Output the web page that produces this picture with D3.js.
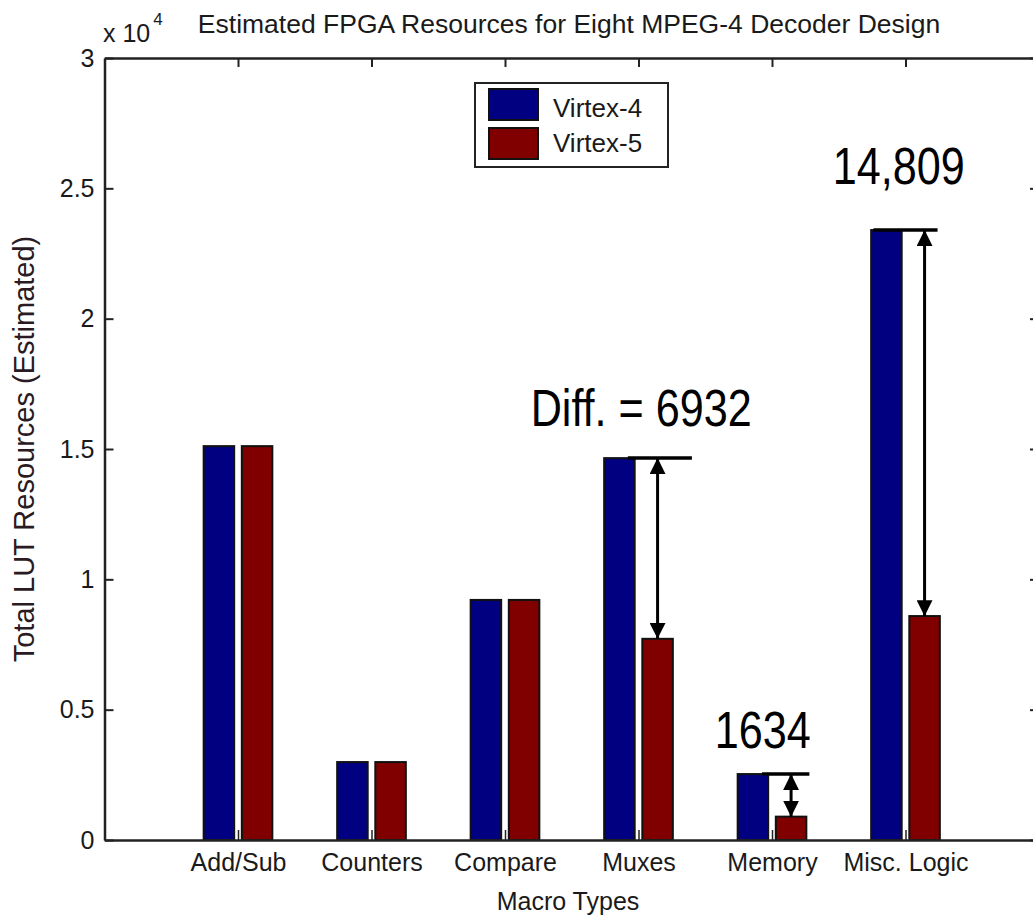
<!DOCTYPE html>
<html>
<head>
<meta charset="utf-8">
<script src="https://d3js.org/d3.v7.min.js"></script>
<style>
  body { margin: 0; background: #fff; }
  svg { font-family: "Liberation Sans", Arial, Helvetica, sans-serif; }
  .axis path, .axis line { stroke: #222; }
  .axis text { fill: #1a1a1a; font-size: 25px; }
</style>
</head>
<body>
<div id="viz"></div>
<script>

// data
const categories = ["Add/Sub", "Counters", "Compare", "Muxes", "Memory", "Misc. Logic"];
const series = ["Virtex-4", "Virtex-5"];
const virtex4 = [15110, 2990, 9210, 14650, 2530, 23400];
const virtex5 = [15110, 2990, 9210, 7718, 896, 8591];
const yTicks = [0, 5000, 10000, 15000, 20000, 25000, 30000];

// difference callouts: category, label
const diffCats = ["Muxes", "Memory", "Misc. Logic"];
const diffLabels = ["Diff. = 6932", "1634", "14,809"];

// callout layout (category units / pixels)
const calloutLayout = {
  "Muxes":       { x0: -0.08, x1: 0.40, tx: 0.02, ty: -32 },
  "Memory":      { x0: -0.075, x1: 0.28, tx: -0.07, ty: -26 },
  "Misc. Logic": { x0: -0.24, x1: 0.24, tx: -0.05, ty: -46 }
};

const W = 1033, H = 919;
const plot = { left: 104.5, right: 1039, top: 58, bottom: 840 };
const colors = ["#000080", "#800000"];

const svg = d3.select("#viz").append("svg")
  .attr("width", W).attr("height", H);
svg.append("rect").attr("width", W).attr("height", H).attr("fill", "#fff");

const x = d3.scaleLinear().domain([0, 7]).range([plot.left, plot.right]);
const y = d3.scaleLinear().domain([0, 30000]).range([plot.bottom, plot.top]);

// matlab style grouped bars
const offsets = [-0.1429, 0.1429];
const barW = 0.2286;
const values = [virtex4, virtex5];

series.forEach((s, si) => {
  svg.append("g").selectAll("rect")
    .data(values[si])
    .join("rect")
      .attr("x", (d, i) => x(i + 1 + offsets[si] - barW / 2))
      .attr("width", x(barW) - x(0))
      .attr("y", d => y(d))
      .attr("height", d => y(0) - y(d))
      .attr("fill", colors[si])
      .attr("stroke", "#111")
      .attr("stroke-width", 2);
});

// axes
svg.append("g").attr("class", "axis")
  .attr("transform", `translate(${plot.left},0)`)
  .call(d3.axisLeft(y).tickValues(yTicks).tickFormat(d => d / 10000)
    .tickSizeInner(-9).tickSizeOuter(0).tickPadding(10))
  .call(g => g.select(".domain").attr("stroke-width", 2.5))
  .call(g => g.selectAll("line").attr("stroke-width", 2));

svg.append("g").attr("class", "axis")
  .attr("transform", `translate(${plot.right},0)`)
  .call(d3.axisRight(y).tickValues(yTicks).tickFormat("")
    .tickSizeInner(-9).tickSizeOuter(0))
  .call(g => g.select(".domain").attr("stroke-width", 2.5))
  .call(g => g.selectAll("line").attr("stroke-width", 2));

svg.append("g").attr("class", "axis")
  .attr("transform", `translate(0,${plot.top})`)
  .call(d3.axisTop(x).tickValues(d3.range(1, 7)).tickFormat("")
    .tickSizeInner(-9).tickSizeOuter(0))
  .call(g => g.select(".domain").attr("stroke-width", 2.5))
  .call(g => g.selectAll("line").attr("stroke-width", 2));

svg.append("g").attr("class", "axis")
  .attr("transform", `translate(0,${plot.bottom})`)
  .call(d3.axisBottom(x).tickValues(d3.range(1, 7)).tickFormat(d => categories[d - 1])
    .tickSizeInner(-10).tickSizeOuter(0).tickPadding(13))
  .call(g => g.select(".domain").attr("stroke-width", 2.5))
  .call(g => g.selectAll("line").attr("stroke-width", 1.5));

// title + labels
svg.append("text")
  .attr("x", 569).attr("y", 33)
  .attr("text-anchor", "middle")
  .attr("font-size", 26.5).attr("fill", "#1a1a1a")
  .text("Estimated FPGA Resources for Eight MPEG-4 Decoder Design");

const exp = svg.append("text")
  .attr("x", 103).attr("y", 42)
  .attr("font-size", 25).attr("fill", "#1a1a1a");
exp.append("tspan").text("x 10");
exp.append("tspan").attr("dx", 3).attr("dy", -17).attr("font-size", 17).text("4");

svg.append("text")
  .attr("x", 568).attr("y", 910)
  .attr("text-anchor", "middle")
  .attr("font-size", 25).attr("fill", "#1a1a1a")
  .text("Macro Types");

svg.append("text")
  .attr("transform", `translate(34,${(plot.top + plot.bottom) / 2}) rotate(-90)`)
  .attr("text-anchor", "middle")
  .attr("font-size", 29).attr("fill", "#2a1a22")
  .text("Total LUT Resources (Estimated)");

// legend
const legend = svg.append("g").attr("transform", "translate(475,83)");
legend.append("rect")
  .attr("width", 193).attr("height", 84)
  .attr("fill", "#fff").attr("stroke", "#222").attr("stroke-width", 2);
series.forEach((s, si) => {
  legend.append("rect")
    .attr("x", 14).attr("y", 6 + si * 39)
    .attr("width", 49).attr("height", 31)
    .attr("fill", colors[si]).attr("stroke", "#111").attr("stroke-width", 2);
  legend.append("text")
    .attr("x", 78).attr("y", 34 + si * 35)
    .attr("font-size", 26).attr("fill", "#1a1a1a")
    .text(s);
});

// difference callouts
svg.append("defs").append("marker")
  .attr("id", "head")
  .attr("viewBox", "0 0 10 10")
  .attr("refX", 10).attr("refY", 5)
  .attr("markerWidth", 5.3).attr("markerHeight", 5.3)
  .attr("markerUnits", "strokeWidth")
  .attr("orient", "auto-start-reverse")
  .append("path").attr("d", "M0,0 L10,5 L0,10 Z").attr("fill", "#000");

diffCats.forEach((c, k) => {
  const i = categories.indexOf(c);
  const lay = calloutLayout[c];
  const top = y(virtex4[i]);
  const low = y(virtex5[i]);
  const g = svg.append("g");
  g.append("line")
    .attr("x1", x(i + 1 + lay.x0)).attr("x2", x(i + 1 + lay.x1))
    .attr("y1", top).attr("y2", top)
    .attr("stroke", "#000").attr("stroke-width", 3.5);
  g.append("line")
    .attr("x1", x(i + 1 + offsets[1])).attr("x2", x(i + 1 + offsets[1]))
    .attr("y1", top).attr("y2", low)
    .attr("stroke", "#000").attr("stroke-width", 3)
    .attr("marker-start", "url(#head)")
    .attr("marker-end", "url(#head)");
  g.append("text")
    .attr("transform", `translate(${x(i + 1 + lay.tx)},${top + lay.ty}) scale(0.83,1)`)
    .attr("text-anchor", "middle")
    .attr("font-size", 52).attr("fill", "#000")
    .text(diffLabels[k]);
});

</script>
</body>
</html>
